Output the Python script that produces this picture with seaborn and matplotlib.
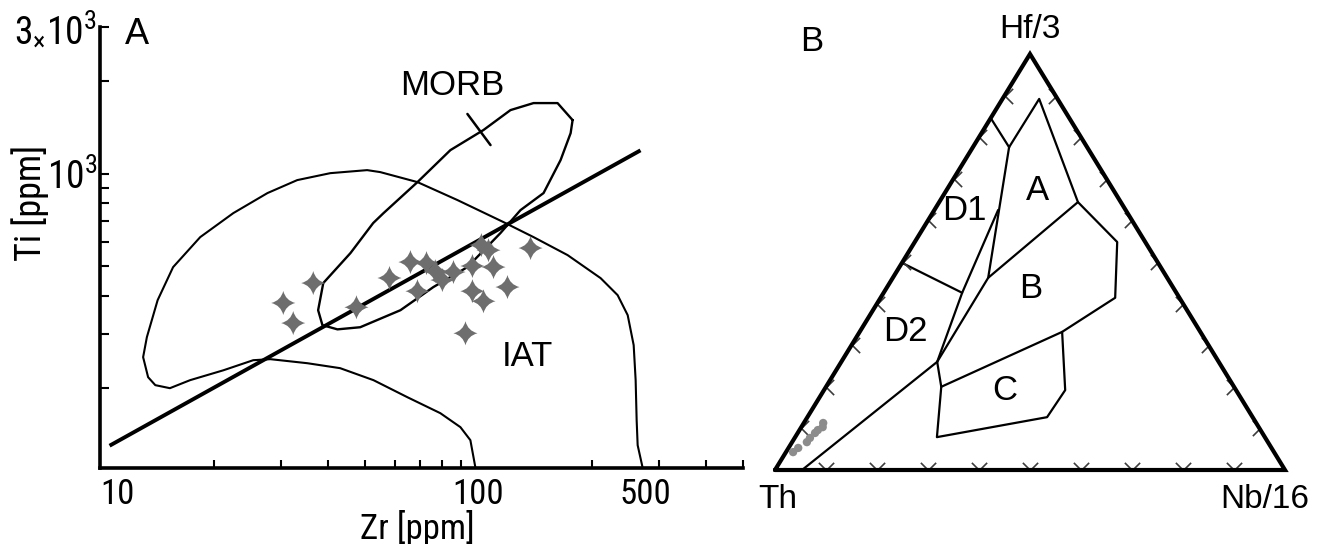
import numpy as np
import matplotlib
matplotlib.use("Agg")
import matplotlib.pyplot as plt
import seaborn as sns
from matplotlib import font_manager as fm
from matplotlib.path import Path
from matplotlib.ticker import NullFormatter

# ---------------- Panel A data: Zr vs Ti (ppm) ----------------
sample_zr = [30.5, 32.4, 36.6, 47.6, 58.2, 66.1, 72.9, 69.0, 76.9, 80.3,
             85.9, 96.4, 101.8, 106.3, 109.6, 96.4, 103.1, 119.3, 137.3, 92.4]
sample_ti = [379, 326, 440, 367, 457, 515, 511, 414, 481, 450,
             478, 500, 585, 563, 496, 414, 384, 427, 572, 302]

trend_zr = [10.6, 268]
trend_ti = [130, 1190]

morb_zr = [177.3, 161.8, 139.8, 121.5, 103.1, 84.3, 69.0, 56.1, 52.7, 45.9,
           38.9, 37.7, 38.7, 42.4, 48.7, 62.2, 76.0, 93.5, 114.3, 129.1,
           148.6, 164.8, 175.2, 177.3]
morb_ti = [1493, 1696, 1696, 1609, 1386, 1192, 938, 743, 690, 551,
           440, 359, 321, 311, 316, 359, 427, 496, 640, 760,
           864, 1106, 1354, 1493]
morb_tick_zr = [93.5, 107.6]
morb_tick_ti = [1563, 1238]

iat_zr = [98.2, 95.2, 89.6, 79.3, 64.9, 52.8, 43.1, 35.3, 28.2, 25.4,
          21.2, 17.3, 15.3, 14.0, 13.4, 13.0, 13.3, 14.2, 15.6, 18.4,
          22.5, 27.7, 33.2, 40.6, 50.8, 55.0, 69.0, 88.0, 116.4, 139.8,
          172.0, 210.3, 233.2, 247.9, 257.1, 260.2, 261.8, 263.4, 271.6]
iat_ti = [110, 135.5, 149.4, 165.9, 187.0, 212.5, 232.5, 241.3, 248.7, 246.8,
          228.9, 212.5, 200.1, 204.7, 217.3, 252.5, 293.4, 387.1, 495.8, 621.0,
          743.3, 863.9, 952.1, 1003, 1026, 1011, 937.9, 819.7, 695.1, 621.0,
          542.6, 456.5, 401.9, 346.0, 276.3, 212.5, 157.4, 130.5, 110]

x_tick_pos = [10, 100, 276]
x_tick_labels = ["10", "100", "500"]
x_minor = [20, 30, 40, 50, 60, 70, 80, 90, 100, 200, 300, 400, 500]
y_tick_pos = [1000, 3000]
y_tick_labels = [r"$\mathregular{10^{3}}$", r"$\mathregular{3_{\times}10^{3}}$"]
y_minor = [200, 300, 400, 500, 600, 700, 800, 900, 2000]

# ---------------- Panel B data: Th - Hf/3 - Nb/16 (%) ----------------
line_top_th = [15.4, 15.3]; line_top_hf = [84.6, 77.6]; line_top_nb = [0.0, 7.1]
field_a_th = [15.3, 3.6, 8.4, 35.1, 15.3]
field_a_hf = [77.6, 89.2, 64.4, 46.2, 77.6]
field_a_nb = [7.1, 7.2, 27.2, 18.7, 7.1]
field_b_th = [8.4, 5.5, 12.6, 27.1, 57.4]
field_b_hf = [64.4, 54.8, 41.4, 33.2, 20.0]
field_b_nb = [27.2, 39.7, 46.0, 39.7, 22.6]
b_left_th = [35.1, 55.2]; b_left_hf = [46.2, 26.0]; b_left_nb = [18.7, 18.8]
d1_right_th = [25.0, 42.0, 55.2]; d1_right_hf = [62.5, 42.6, 26.0]; d1_right_nb = [12.5, 15.4, 18.8]
d1_d2_th = [50.2, 42.0]; d1_d2_hf = [49.8, 42.6]; d1_d2_nb = [0.0, 15.4]
low_th = [55.2, 94.7]; low_hf = [26.0, 0.0]; low_nb = [18.8, 5.3]
field_c_th = [55.2, 57.4, 64.3, 40.3, 33.5, 27.1]
field_c_hf = [26.0, 20.0, 7.9, 12.7, 19.2, 33.2]
field_c_nb = [18.8, 22.6, 27.8, 47.0, 47.3, 39.7]

tern_hf = [4.3, 5.3, 6.7, 7.7, 8.9, 9.6, 10.3, 11.3]
tern_nb = [1.4, 1.9, 2.9, 3.0, 3.4, 3.6, 4.2, 3.8]
tern_th = [94.3, 92.8, 90.4, 89.3, 87.7, 86.8, 85.5, 84.9]

tern_ticks = [10, 20, 30, 40, 50, 60, 70, 80, 90]

# ---------------- style ----------------
sns.set_theme(style="white")
names = {f.name for f in fm.fontManager.ttflist}
REG = "Liberation Sans" if "Liberation Sans" in names else "DejaVu Sans"
NAR = REG
for cand in ["Liberation Sans Narrow", "Arial Narrow", "Nimbus Sans Narrow", "Roboto Condensed",
             "Archivo Narrow", "PT Sans Narrow", "Open Sans Condensed", "Barlow Semi Condensed"]:
    if cand in names:
        NAR = cand
        break
plt.rcParams["font.family"] = [REG, "DejaVu Sans"]
plt.rcParams["mathtext.fontset"] = "custom"
plt.rcParams["mathtext.rm"] = NAR

W, H = 1329, 544
fig = plt.figure(figsize=(W / 100, H / 100), dpi=100)
fig.patch.set_facecolor("white")

# ---------------- Panel A ----------------
ax = fig.add_axes([100 / W, 76 / H, 643 / W, 441 / H])
ax.set_xscale("log")
ax.set_yscale("log")
ax.set_facecolor("white")

ax.plot(iat_zr, iat_ti, color="black", lw=1.5, zorder=2)
ax.plot(morb_zr, morb_ti, color="black", lw=1.7, zorder=2)
ax.plot(morb_tick_zr, morb_tick_ti, color="black", lw=1.8, zorder=2)
ax.plot(trend_zr, trend_ti, color="black", lw=2.8, solid_capstyle="butt", zorder=2)

c = 0.2
star = Path([(0, 1), (c, c), (1, 0), (c, -c), (0, -1), (-c, -c), (-1, 0), (-c, c), (0, 1), (0, 1)],
            [Path.MOVETO, Path.CURVE3, Path.CURVE3, Path.CURVE3, Path.CURVE3,
             Path.CURVE3, Path.CURVE3, Path.CURVE3, Path.CURVE3, Path.CLOSEPOLY])
sns.scatterplot(x=sample_zr, y=sample_ti, marker=star, s=300, color="#6e6e6e",
                edgecolor="none", linewidth=0, ax=ax, zorder=3)

ax.set_xlim(10, 500)
ax.set_ylim(110, 3000)

for s in ["top", "right"]:
    ax.spines[s].set_visible(False)
for s in ["left", "bottom"]:
    ax.spines[s].set_linewidth(2.6)
    ax.spines[s].set_color("black")
    ax.spines[s].set_capstyle("projecting")

ax.set_xticks(x_tick_pos, x_tick_labels)
ax.set_xticks(x_minor, minor=True)
ax.xaxis.set_minor_formatter(NullFormatter())
ax.set_yticks(y_tick_pos, y_tick_labels)
ax.set_yticks(y_minor, minor=True)
ax.yaxis.set_minor_formatter(NullFormatter())
ax.tick_params(axis="x", which="major", bottom=True, length=0, pad=7, labelsize=25, colors="black")
ax.tick_params(axis="x", which="minor", bottom=True, direction="in", length=5.5, width=1.5, color="black")
ax.tick_params(axis="y", which="both", left=True, direction="in", length=6.5, width=1.5, color="black",
               pad=2, labelsize=27, labelcolor="black")
for t in ax.get_xticklabels() + ax.get_yticklabels():
    t.set_fontfamily(NAR)
ax.get_xticklabels()[0].set_horizontalalignment("left")

ax.set_xlabel("Zr [ppm]", fontsize=25, family=NAR, color="black")
ax.xaxis.set_label_coords(0.493, -0.135)
ax.xaxis.label.set_va("center")
ax.set_ylabel("Ti [ppm]", fontsize=26, family=NAR, color="black")
ax.yaxis.set_label_coords(-0.109, 0.60)
ax.yaxis.label.set_va("center")

ax.text(0.0575, 0.984, "A", transform=ax.transAxes, fontsize=26, ha="center", va="center", color="black")
ax.text(85.3, 1928, "MORB", fontsize=25, ha="center", va="center", color="black")
ax.text(134.8, 254, "IAT", fontsize=25, ha="center", va="center", color="black")

# ---------------- Panel B (ternary) ----------------
ax2 = fig.add_axes([775 / W, 74 / H, 510 / W, 416 / H])
ax2.set_xlim(0, 1)
ax2.set_ylim(0, 1)
ax2.axis("off")


def proj(th, hf, nb):
    th, hf, nb = (np.asarray(v, dtype=float) for v in (th, hf, nb))
    tot = th + hf + nb
    h = hf / tot
    n = nb / tot
    return n + 0.5 * h, h


tx, ty = proj([100, 0, 0, 100], [0, 0, 100, 0], [0, 100, 0, 0])
ax2.plot(tx, ty, color="black", lw=3.0, solid_joinstyle="miter", clip_on=False, zorder=3)

for th, hf, nb in [(line_top_th, line_top_hf, line_top_nb),
                   (field_a_th, field_a_hf, field_a_nb),
                   (field_b_th, field_b_hf, field_b_nb),
                   (b_left_th, b_left_hf, b_left_nb),
                   (d1_right_th, d1_right_hf, d1_right_nb),
                   (d1_d2_th, d1_d2_hf, d1_d2_nb),
                   (low_th, low_hf, low_nb),
                   (field_c_th, field_c_hf, field_c_nb)]:
    x, y = proj(th, hf, nb)
    ax2.plot(x, y, color="black", lw=1.6, clip_on=False, zorder=2)

k = np.asarray(tern_ticks, dtype=float)
v_down = Path([(-1, 1), (0, 0), (1, 1)], [Path.MOVETO, Path.LINETO, Path.LINETO])
v_left = Path([(1, 1), (0, 0), (1, -1)], [Path.MOVETO, Path.LINETO, Path.LINETO])
v_right = Path([(-1, 1), (0, 0), (-1, -1)], [Path.MOVETO, Path.LINETO, Path.LINETO])
bx, by = proj(100 - k, 0 * k, k)
lx, ly = proj(100 - k, k, 0 * k)
rx, ry = proj(0 * k, k, 100 - k)
for (x, y, m) in [(bx, by, v_down), (lx, ly, v_left), (rx, ry, v_right)]:
    ax2.plot(x, y, linestyle="none", marker=m, markersize=11, markerfacecolor="none",
             markeredgecolor="#3c3c3c", markeredgewidth=1.2, clip_on=False, zorder=2)

sx, sy = proj(tern_th, tern_hf, tern_nb)
sns.scatterplot(x=sx, y=sy, s=36, color="#8c8c8c", edgecolor="none", ax=ax2, zorder=4, clip_on=False)

for txt, fx, fy in [("A", 0.514, 0.671), ("D1", 0.371, 0.623), ("B", 0.502, 0.4375),
                    ("D2", 0.255, 0.334), ("C", 0.451, 0.19)]:
    ax2.text(fx, fy, txt, transform=ax2.transAxes, fontsize=25, ha="center", va="center", color="black")
ax2.text(0.072, 1.03, "B", transform=ax2.transAxes, fontsize=25, ha="center", va="center", color="black")
ax2.text(0.5, 1.058, "Hf/3", transform=ax2.transAxes, fontsize=24, ha="center", va="center", color="black")
ax2.text(0.006, -0.07, "Th", transform=ax2.transAxes, fontsize=24, ha="center", va="center", color="black")
ax2.text(0.96, -0.07, "Nb/16", transform=ax2.transAxes, fontsize=24, ha="center", va="center", color="black")

fig.savefig("out.png", dpi=100, facecolor="white")
